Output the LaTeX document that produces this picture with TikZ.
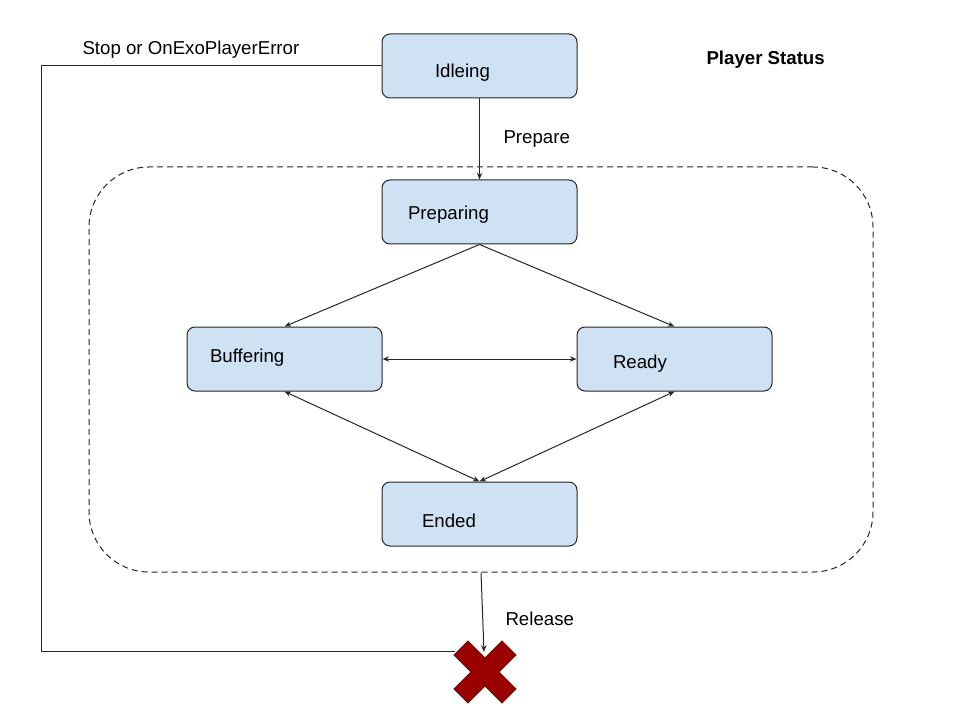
\documentclass[tikz,border=0pt]{standalone}
\usepackage{fontspec}
\setmainfont{Liberation Sans}
\usetikzlibrary{arrows.meta,positioning,calc}
\def\boxwidth{146.25pt}
\def\boxheight{48pt}
\def\groupwidth{588pt}
\def\groupheight{303.75pt}
\definecolor{paleblue}{HTML}{CFE2F3}
\definecolor{stopred}{HTML}{990000}
\definecolor{stopdark}{HTML}{5B0F00}

\begin{document}
\begin{tikzpicture}[x=0.75pt,y=-0.75pt,line width=0.75pt,draw=black!85,
    myarrow/.style={-{Stealth[length=5pt,width=4pt]}},
    myboth/.style={{Stealth[length=5pt,width=4pt]}-{Stealth[length=5pt,width=4pt]}}]
    \tikzstyle{state}=[draw=black!85,fill=paleblue,rounded corners=6pt,minimum width=\boxwidth,minimum height=\boxheight,inner sep=0pt]
    \tikzstyle{statetext}=[inner sep=0pt,anchor=west,font=\fontsize{14pt}{17pt}\selectfont]
    \tikzstyle{annot}=[statetext];
    \tikzstyle{group}=[draw=black!85,dashed,dash pattern=on 4.5pt off 3pt,rounded corners=45pt,minimum width=\groupwidth,minimum height=\groupheight,inner sep=0pt]

    \useasboundingbox (0,0) rectangle (960,720);

    % Draw the group and the states
    \node[group] (active) at (481,369.5) {};

    \node[state] (idle) at (479.5,66) {};
    \node[state] (prep) at (479.5,212) {};
    \node[state] (buf) at (284.5,359) {};
    \node[state] (ready) at (674.5,359) {};
    \node[state] (ended) at (479.5,514) {};

    \node[statetext] (idle-t) at ($(idle.west)+(53,7)$) {Idleing};
    \node[statetext] (prep-t) at ($(prep.west)+(26,3)$) {Preparing};
    \node[statetext] (buf-t) at ($(buf.west)+(23,-1)$) {Buffering};
    \node[statetext] (ready-t) at ($(ready.west)+(36,5)$) {Ready};
    \node[statetext] (ended-t) at ($(ended.west)+(40,7)$) {Ended};

    % The stop mark
    \begin{scope}[shift={(485,672)},rotate=45]
        \filldraw[fill=stopred,draw=stopdark,line width=0.6pt]
            (10,10) -- (34,10) -- (34,-10) -- (10,-10) -- (10,-34) -- (-10,-34) -- (-10,-10)
            -- (-34,-10) -- (-34,10) -- (-10,10) -- (-10,34) -- (10,34) -- cycle;
    \end{scope}
    \coordinate (stop-in) at (455,651);
    \coordinate (release-in) at (484,652);

    % Connect the states
    \draw[myarrow] (idle.south) -- (prep.north);
    \foreach \dest in {buf,ready}
        \draw[myarrow] (prep.south) -- (\dest.north);
    \draw[myboth] (buf.east) -- (ready.west);
    \foreach \source in {buf,ready}
        \draw[myboth] (\source.south) -- (ended.north);
    \draw[myarrow] (active.south) -- (release-in);
    \draw (idle.west) -- ++(-340,0) |- (stop-in);

    % Labels
    \node[annot] (stop-l) at (82,50) {Stop or OnExoPlayerError};
    \node[annot] (prepare-l) at (503,139) {Prepare};
    \node[annot] (release-l) at (505,619) {Release};
    \node[annot,font=\fontsize{14pt}{17pt}\selectfont\bfseries] (title) at (706,60) {Player Status};
\end{tikzpicture}
\end{document}
